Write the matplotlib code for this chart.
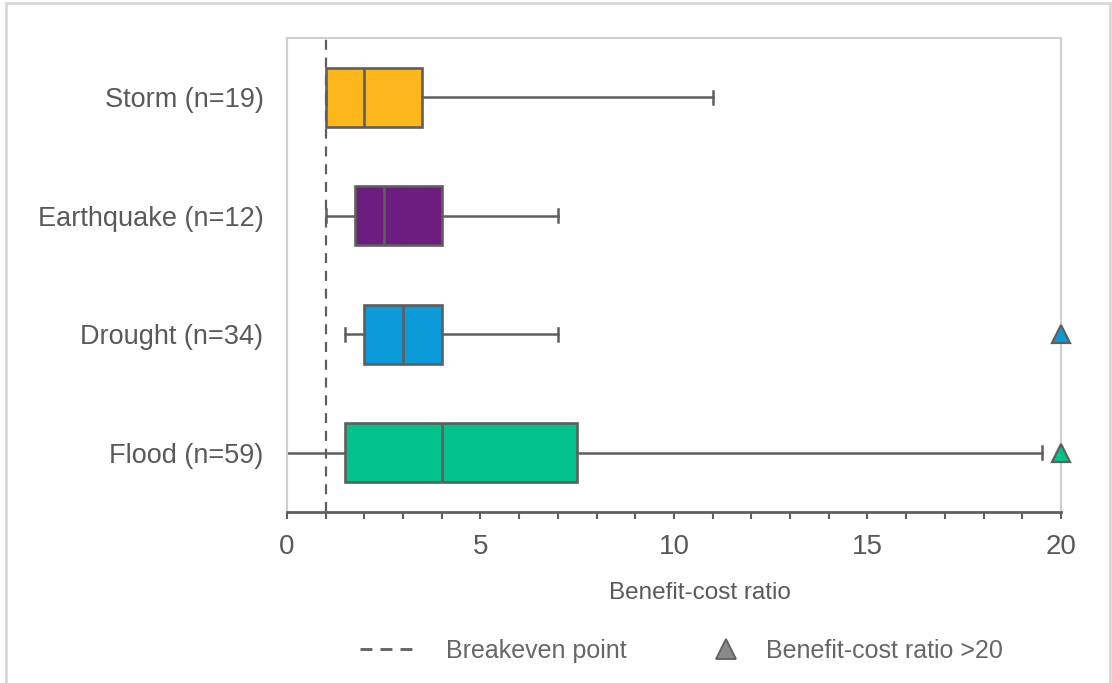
import numpy as np
import matplotlib.pyplot as plt
from matplotlib.lines import Line2D

# box statistics (bottom to top)
labels = ['Flood (n=59)', 'Drought (n=34)', 'Earthquake (n=12)', 'Storm (n=19)']
whis_lo = [0.0, 1.5, 1.0, 1.0]
q1 = [1.5, 2.0, 1.75, 1.0]
median = [4.0, 3.0, 2.5, 2.0]
q3 = [7.5, 4.0, 4.0, 3.5]
whis_hi = [19.5, 7.0, 7.0, 11.0]
above_20 = [[20], [20], [], []]   # cases with ratio >20, drawn at the edge
colors = ['#00C28A', '#0A9BD8', '#6C1D7F', '#FDB71A']
breakeven = 1.0

grey = '#5f5f5f'
txt = '#595959'
plt.rcParams['font.family'] = ['Liberation Sans', 'DejaVu Sans']

fig = plt.figure(figsize=(11.12, 6.83), dpi=100)
ax = fig.add_axes([0.2581, 0.2504, 0.696, 0.6940])

stats = []
for i in range(len(labels)):
    stats.append(dict(med=median[i], q1=q1[i], q3=q3[i], whislo=whis_lo[i],
                      whishi=whis_hi[i], fliers=above_20[i]))

pos = np.arange(1, len(labels) + 1)
bp = ax.bxp(stats, positions=pos, vert=False, widths=0.5, patch_artist=True,
            boxprops=dict(edgecolor=grey, linewidth=1.9),
            medianprops=dict(color=grey, linewidth=1.9),
            whiskerprops=dict(color=grey, linewidth=1.8),
            capprops=dict(color=grey, linewidth=1.8),
            capwidths=0.11,
            flierprops=dict(marker='^', markersize=12.5, markeredgecolor=grey,
                            markeredgewidth=1.6, linestyle='none'))
for patch, c in zip(bp['boxes'], colors):
    patch.set_facecolor(c)
for fl, c in zip(bp['fliers'], colors):
    fl.set_markerfacecolor(c)
    fl.set_clip_on(False)
    fl.set_zorder(5)
bp['caps'][0].set_visible(False)

ax.axvline(breakeven, color=grey, linestyle=(0, (4.5, 3.5)), linewidth=1.6, zorder=1)

ax.set_xlim(0, 20)
ax.set_ylim(0.5, 4.5)
ax.set_yticks(pos)
ax.set_yticklabels(labels, fontsize=19.5, color=txt)
ax.set_xticks([0, 5, 10, 15, 20])
ax.set_xticks(np.arange(0, 21, 1), minor=True)
ax.tick_params(axis='x', which='both', direction='out', length=5, width=1.5,
               color=grey, labelsize=20, labelcolor=txt, pad=11)
ax.tick_params(axis='y', length=0, pad=17)
ax.set_xlabel('Benefit-cost ratio', fontsize=17.5, color=txt)
ax.xaxis.set_label_coords(0.534, -0.147)

for s in ['left', 'top', 'right']:
    ax.spines[s].set_color('#cfcfcf')
    ax.spines[s].set_linewidth(1.5)
ax.spines['bottom'].set_color(grey)
ax.spines['bottom'].set_linewidth(2)

# legend under the plot, two single entries
lfont = dict(family=['Liberation Sans Narrow', 'Liberation Sans'], size=18)
h1 = Line2D([], [], color=grey, linestyle=(0, (4.3, 2.9)), linewidth=2)
h2 = Line2D([], [], color='#8a8a8a', marker='^', markersize=14,
            markeredgecolor=grey, markeredgewidth=1.3, linestyle='none')
fig.legend([h1], ['Breakeven point'], loc='center left',
           bbox_to_anchor=(0.3237, 0.047), frameon=False, prop=lfont,
           handlelength=2.1, handletextpad=1.35, borderpad=0, borderaxespad=0,
           labelcolor='#666666')
fig.legend([h2], ['Benefit-cost ratio >20'], loc='center left',
           bbox_to_anchor=(0.642, 0.047), frameon=False, prop=lfont,
           handlelength=1.0, handletextpad=1.1, borderpad=0, borderaxespad=0,
           labelcolor='#666666')

# light outer frame
bc = '#d9d9d9'
fig.add_artist(Line2D([0.005, 0.005], [0, 0.996], color=bc, lw=2))
fig.add_artist(Line2D([0.005, 0.998], [0.996, 0.996], color=bc, lw=2))
fig.add_artist(Line2D([0.998, 0.998], [0, 0.996], color=bc, lw=2))

plt.savefig('out.png', dpi=100)
